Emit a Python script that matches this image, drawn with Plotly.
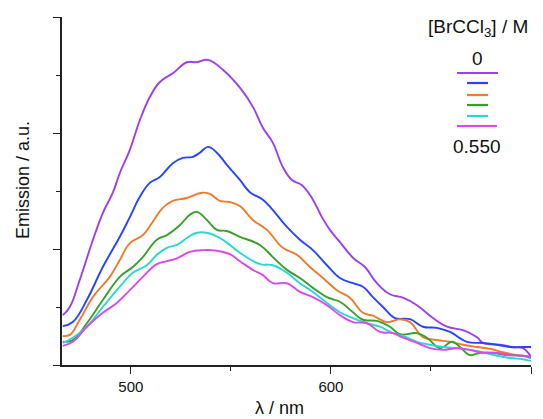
import plotly.graph_objects as go

# ---- data ----
wl_0 = [466, 469.5, 474.5, 481, 486, 491, 494.5, 499.5, 504.5, 509.5, 514.5, 521, 528, 533, 538.5, 546,
        555, 561, 566, 571, 576, 580.5, 585.5, 590.5, 595.5, 599.5, 604.5, 611, 617, 623, 629.5, 636,
        643, 651, 658, 666, 673, 676, 684.5, 691, 696, 700]
em_0 = [0.86, 1.00, 1.47, 2.15, 2.62, 2.97, 3.31, 3.71, 4.22, 4.62, 4.88, 5.03, 5.22, 5.22, 5.26, 5.09,
        4.76, 4.45, 4.09, 3.83, 3.41, 3.19, 3.10, 2.88, 2.55, 2.33, 2.12, 1.85, 1.69, 1.41, 1.22, 1.16,
        1.03, 0.81, 0.66, 0.60, 0.48, 0.38, 0.35, 0.31, 0.29, 0.14]

wl_1 = [466, 471, 478, 486, 494.5, 499.5, 504.5, 509.5, 514.5, 521, 526, 531, 534.5, 538.5, 543, 548,
        554.5, 559.5, 566, 571, 578, 584.5, 591, 598, 604.5, 611, 616, 621, 626, 632, 639.5, 646,
        653, 659.5, 668, 676, 683, 689.5, 696, 700]
em_1 = [0.67, 0.74, 1.12, 1.69, 2.21, 2.55, 2.90, 3.14, 3.24, 3.48, 3.57, 3.59, 3.66, 3.76, 3.66, 3.45,
        3.19, 2.98, 2.85, 2.67, 2.38, 2.16, 1.98, 1.72, 1.50, 1.41, 1.35, 1.17, 1.00, 0.81, 0.79, 0.66,
        0.64, 0.57, 0.40, 0.38, 0.35, 0.31, 0.31, 0.31]

wl_2 = [466, 469.5, 474.5, 481, 489.5, 494.5, 499.5, 506, 511, 516, 521, 528, 535.5, 539.5, 544.5, 549.5,
        554.5, 561, 568, 576, 583, 589.5, 596, 603, 609.5, 616, 621, 628, 634.5, 639.5, 646, 653,
        659.5, 666, 673, 679.5, 686, 693, 700]
em_2 = [0.50, 0.52, 0.78, 1.17, 1.52, 1.81, 2.10, 2.24, 2.47, 2.71, 2.83, 2.88, 2.97, 2.95, 2.83, 2.81,
        2.74, 2.50, 2.33, 2.02, 1.90, 1.69, 1.50, 1.29, 1.16, 0.90, 0.85, 0.74, 0.79, 0.74, 0.48, 0.43,
        0.40, 0.35, 0.31, 0.28, 0.22, 0.17, 0.14]

wl_3 = [466, 471, 478, 486, 494.5, 501, 506, 513, 518, 524.5, 529.5, 533, 538, 543, 548, 554.5,
        564.5, 571, 578, 584.5, 591, 598, 604.5, 611, 616, 623, 629.5, 634.5, 643, 648, 654.5, 660.5,
        664.5, 669.5, 674.5, 681, 688, 696, 700]
em_3 = [0.40, 0.43, 0.72, 1.12, 1.52, 1.69, 1.86, 2.16, 2.24, 2.41, 2.59, 2.64, 2.50, 2.33, 2.31, 2.21,
        2.07, 1.86, 1.64, 1.50, 1.33, 1.17, 1.09, 0.91, 0.78, 0.76, 0.66, 0.53, 0.55, 0.47, 0.29, 0.40,
        0.31, 0.17, 0.21, 0.21, 0.17, 0.16, 0.12]

wl_4 = [466, 471, 478, 486, 494.5, 501, 508, 513, 518, 523, 528, 533, 538, 544.5, 549.5, 556,
        564.5, 571, 578, 584.5, 591, 598, 604.5, 611, 618, 624.5, 631, 636, 643, 649.5, 656, 663,
        669.5, 676, 683, 689.5, 696, 700]
em_4 = [0.38, 0.47, 0.66, 1.00, 1.35, 1.59, 1.72, 1.90, 2.02, 2.07, 2.19, 2.28, 2.28, 2.19, 2.07, 1.90,
        1.74, 1.72, 1.59, 1.41, 1.26, 1.07, 0.91, 0.81, 0.72, 0.66, 0.55, 0.50, 0.40, 0.35, 0.31, 0.29,
        0.26, 0.22, 0.16, 0.12, 0.10, 0.07]

wl_5 = [466, 471, 478, 486, 493, 499.5, 506, 513, 518, 523, 529.5, 536, 543, 549.5, 554.5, 561,
        566, 571, 578, 584.5, 591, 598, 604.5, 611, 618, 624.5, 631, 636, 643, 649.5, 656, 663,
        669.5, 676, 683, 689.5, 696, 700]
em_5 = [0.33, 0.40, 0.66, 0.90, 1.07, 1.29, 1.52, 1.74, 1.79, 1.84, 1.95, 1.98, 1.97, 1.91, 1.79, 1.64,
        1.55, 1.41, 1.41, 1.26, 1.17, 1.03, 0.86, 0.74, 0.72, 0.57, 0.55, 0.47, 0.38, 0.29, 0.26, 0.29,
        0.26, 0.21, 0.21, 0.17, 0.16, 0.14]

series_wl = [wl_0, wl_1, wl_2, wl_3, wl_4, wl_5]
series_em = [em_0, em_1, em_2, em_3, em_4, em_5]
colors = ["#9b3ff0", "#2645ff", "#ef7a2a", "#3a9e2c", "#2ad6cf", "#dc48f0"]

x_ticks_major = [500, 600, 700]
x_ticks_minor = [550, 650]
y_ticks_major = [0, 2, 4, 6]
y_ticks_minor = [1, 3, 5]

legend_title = "[BrCCl<sub>3</sub>] / M"
legend_top = "0"
legend_bottom = "0.550"

FONT = "Liberation Sans, Arial, sans-serif"
AX = "#222222"

fig = go.Figure()
for wl, em, c in zip(series_wl, series_em, colors):
    fig.add_trace(go.Scatter(x=wl, y=em, mode="lines",
                             line=dict(color=c, width=1.9, shape="spline", smoothing=1.2),
                             showlegend=False, hoverinfo="skip"))

# plot area in pixels: x 62..531, y 17..365
L, R, T, B = 62, 531, 17, 365
def px(x):
    return (x - L) / (R - L)
def py(y):
    return (B - y) / (B - T)

shapes = []
leg_lines = [(457, 498, 73), (467, 488, 83), (467, 488, 95), (467, 488, 105), (467, 488, 116), (457, 497, 126)]
for (x0, x1, y), c in zip(leg_lines, colors):
    shapes.append(dict(type="line", xref="paper", yref="paper", x0=px(x0), x1=px(x1), y0=py(y), y1=py(y),
                       line=dict(color=c, width=2.2)))

annotations = [
    dict(text=legend_title, x=px(478), y=py(28), xref="paper", yref="paper", showarrow=False,
         xanchor="center", yanchor="middle", font=dict(size=19, color="#111", family=FONT)),
    dict(text=legend_top, x=px(477), y=py(58), xref="paper", yref="paper", showarrow=False,
         xanchor="center", yanchor="middle", font=dict(size=19, color="#111", family=FONT)),
    dict(text=legend_bottom, x=px(477), y=py(146), xref="paper", yref="paper", showarrow=False,
         xanchor="center", yanchor="middle", font=dict(size=19, color="#111", family=FONT)),
    dict(text="λ / nm", x=px(279), y=py(408), xref="paper", yref="paper", showarrow=False,
         xanchor="center", yanchor="middle", font=dict(size=18, color="#111", family=FONT)),
    dict(text="Emission / a.u.", x=px(23), y=py(180), xref="paper", yref="paper", showarrow=False,
         textangle=-90, xanchor="center", yanchor="middle", font=dict(size=18, color="#111", family=FONT)),
]

fig.update_layout(
    width=543, height=419,
    margin=dict(l=L, r=543 - R, t=T, b=419 - B),
    paper_bgcolor="white", plot_bgcolor="white",
    font=dict(family=FONT, color="#111"),
    shapes=shapes, annotations=annotations,
    xaxis=dict(range=[465.6, 700], showgrid=False, zeroline=False,
               showline=True, linecolor=AX, linewidth=1.5,
               ticks="outside", tickvals=x_ticks_major, ticktext=[str(v) for v in x_ticks_major],
               ticklen=7, tickwidth=1.3, tickcolor=AX, tickfont=dict(size=15, color="#111", family=FONT),
               minor=dict(tickvals=x_ticks_minor, ticks="outside", ticklen=4, tickwidth=1.3, tickcolor=AX,
                          showgrid=False)),
    yaxis=dict(range=[0, 6], showgrid=False, zeroline=False,
               showline=True, linecolor=AX, linewidth=1.5,
               ticks="outside", tickvals=y_ticks_major, showticklabels=False,
               ticklen=7, tickwidth=1.3, tickcolor=AX,
               minor=dict(tickvals=y_ticks_minor, ticks="outside", ticklen=4, tickwidth=1.3, tickcolor=AX,
                          showgrid=False)),
)

fig.write_html("out.html", config={"displayModeBar": False},
               post_script="document.body.style.margin='0';document.body.style.overflow='hidden';")
